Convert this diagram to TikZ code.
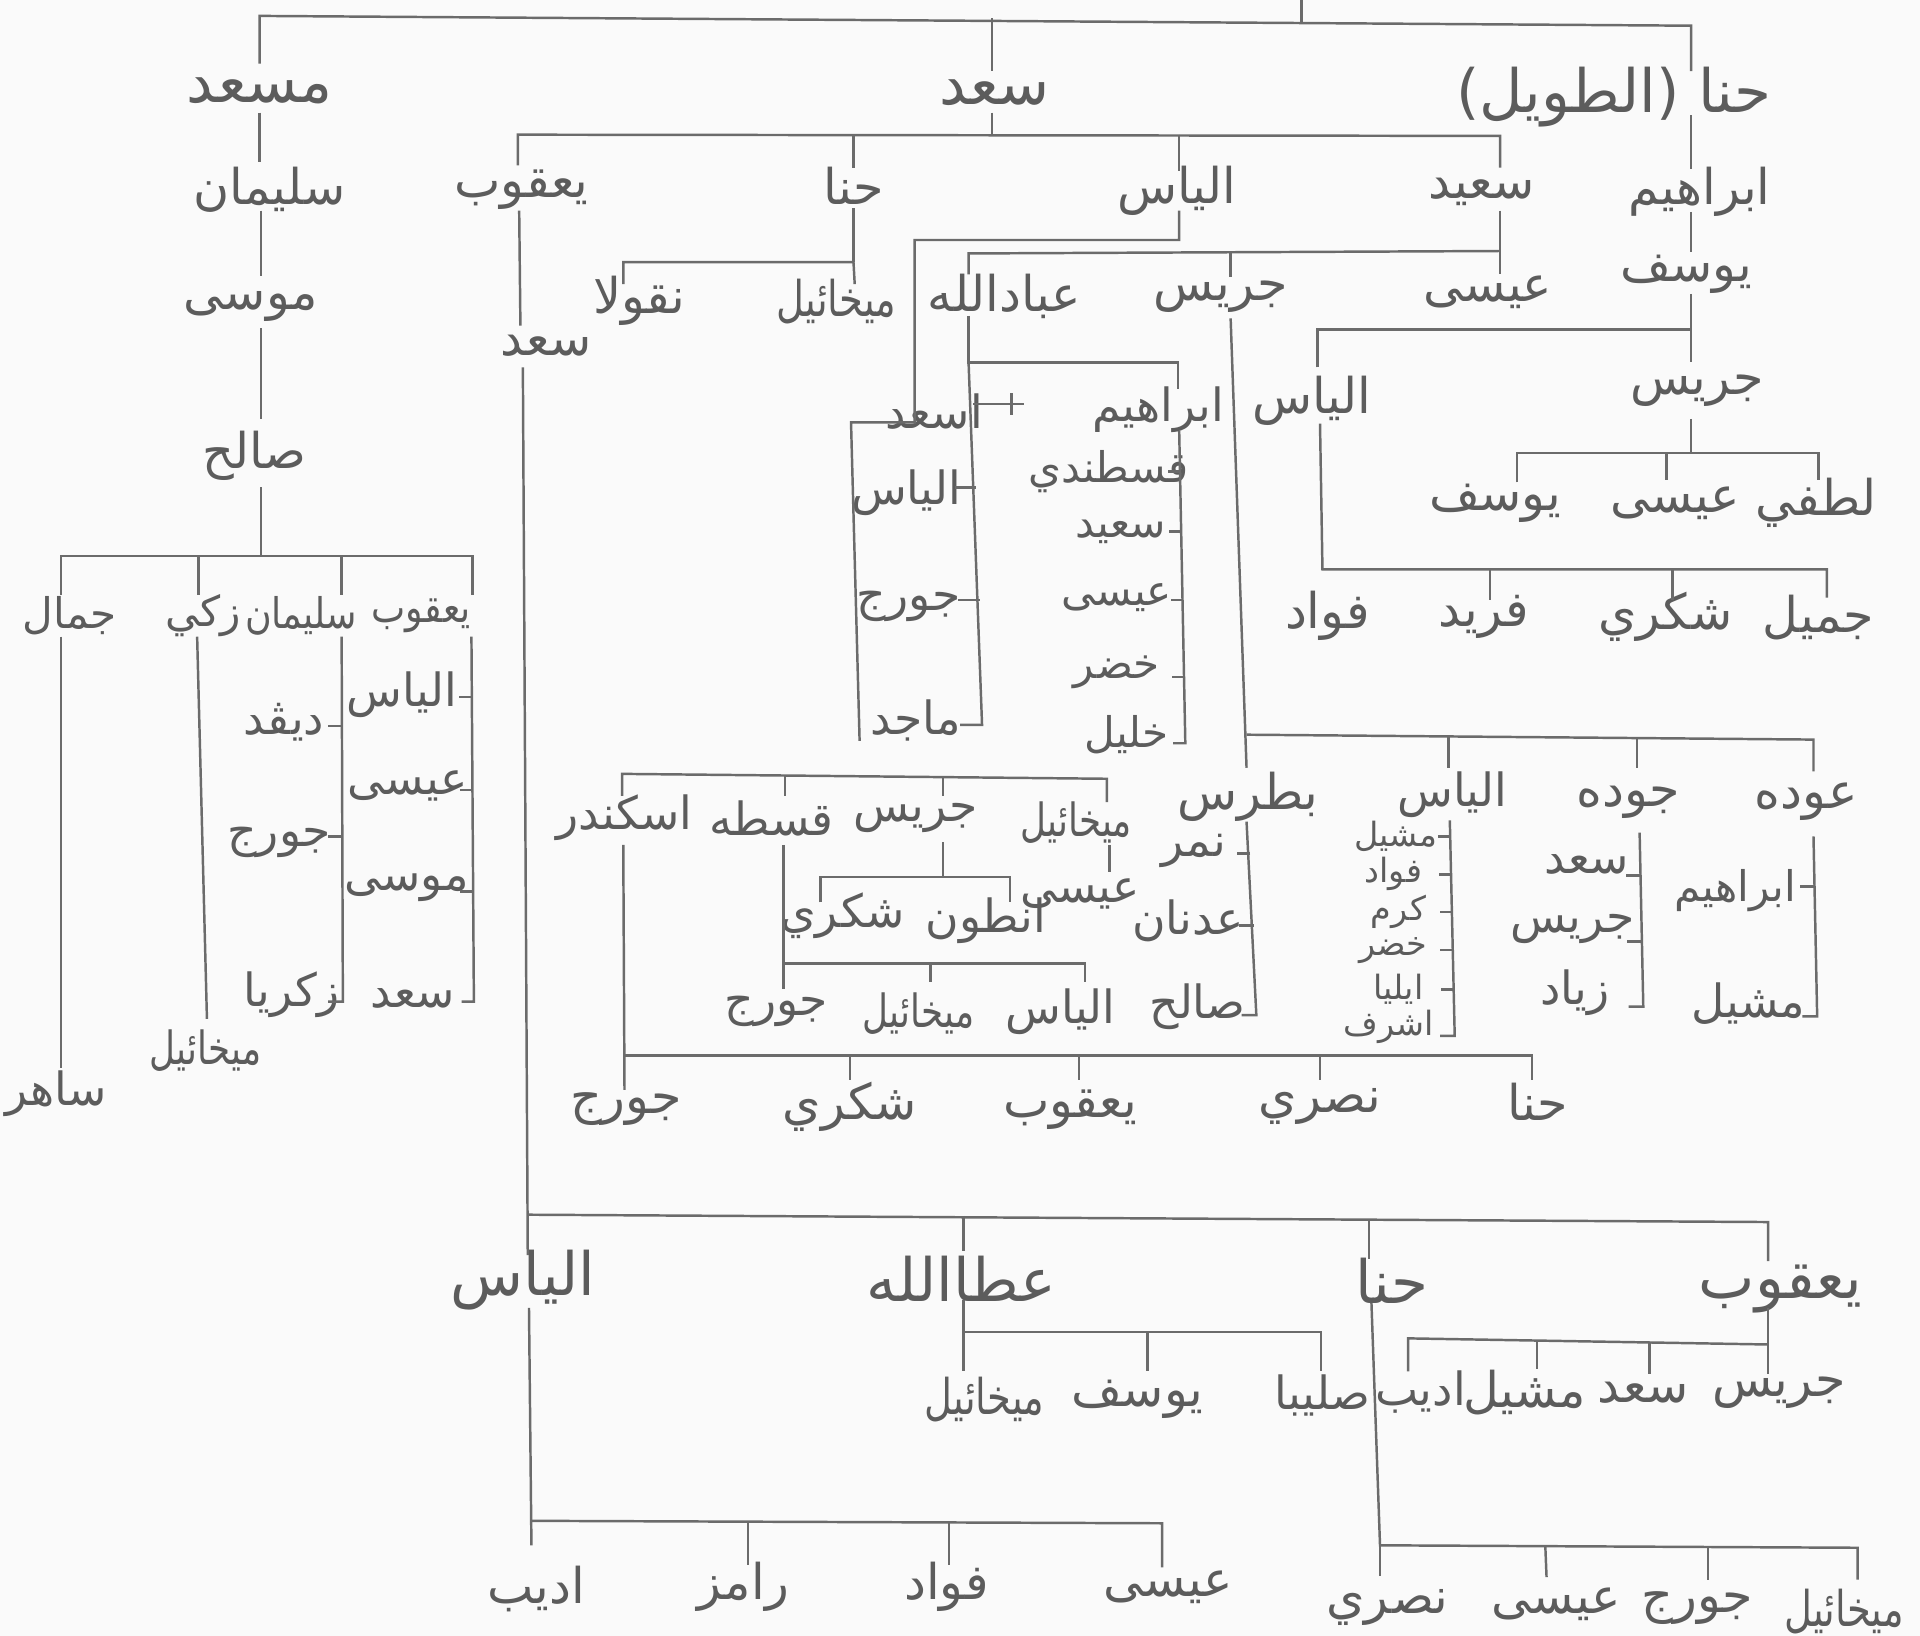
\documentclass[tikz,border=0pt]{standalone}
\usepackage{fontspec}
\newfontfamily\arabicfont[Script=Arabic]{DejaVu Sans}
\TeXXeTstate=1
\newcommand\arT[1]{\beginR #1\endR}
\tikzset{
  ln/.style={draw=black!58, line width=0.7pt},
  base/.style={text=black!64, inner sep=1pt},
  big/.style={base, font=\arabicfont\fontsize{17}{19}\selectfont},
  nm/.style={base, font=\arabicfont\fontsize{14}{16}\selectfont},
  md/.style={base, font=\arabicfont\fontsize{13}{15}\selectfont},
  sm/.style={base, font=\arabicfont\fontsize{12}{14}\selectfont},
  xs/.style={base, font=\arabicfont\fontsize{9.5}{11}\selectfont, inner sep=0.5pt},
  nar/.style={xscale=0.78},
  snar/.style={xscale=0.86},
}
\begin{document}
\begin{tikzpicture}[x=0.012245cm, y=-0.012245cm]
\fill[gray!4] (0,0) rectangle (1568,1336);
\useasboundingbox (0,0) rectangle (1568,1336);

% ---------- text nodes ----------
\node[big] (masad) at (212,74) {\arT{مسعد}};
\node[big] (saad) at (812,76) {\arT{سعد}};
\node[big] (hannaT) at (1318,79) {\arT{حنا (الطويل)}};

\node[nm] (sulaiman1) at (220,155) {\arT{سليمان}};
\node[nm] (musa1) at (205,250) {\arT{موسى}};
\node[nm] (salih1) at (208,372) {\arT{صالح}};
\node[sm] (jamal) at (57,503) {\arT{جمال}};
\node[sm] (zaki) at (166,503) {\arT{زكي}};
\node[sm,snar] (sulaiman2) at (246,503) {\arT{سليمان}};
\node[sm,snar] (yaqub1) at (344,503) {\arT{يعقوب}};
\node[md] (sahir) at (46,893) {\arT{ساهر}};
\node[md,nar] (mikhail1) at (168,858) {\arT{ميخائيل}};
\node[md] (david) at (232,590) {\arT{ديڤد}};
\node[md] (george1) at (228,688) {\arT{جورج}};
\node[md] (zakariya) at (238,812) {\arT{زكريا}};
\node[md] (elias1) at (328,567) {\arT{الياس}};
\node[md] (isa1) at (333,642) {\arT{عيسى}};
\node[md] (musa2) at (332,725) {\arT{موسى}};
\node[md] (saad2) at (337,815) {\arT{سعد}};

\node[nm] (yaqub2) at (426,155) {\arT{يعقوب}};
\node[nm] (hanna2) at (697,152) {\arT{حنا}};
\node[nm] (elias2) at (961,156) {\arT{الياس}};
\node[nm] (said1) at (1210,157) {\arT{سعيد}};

\node[nm] (ibrahim1) at (1388,157) {\arT{ابراهيم}};
\node[nm] (yusuf1) at (1377,224) {\arT{يوسف}};
\node[nm] (jiryis1) at (1386,319) {\arT{جريس}};
\node[nm] (elias3) at (1071,327) {\arT{الياس}};
\node[nm] (fuad1) at (1084,503) {\arT{فواد}};
\node[nm] (farid) at (1212,504) {\arT{فريد}};
\node[nm] (shukri1) at (1360,504) {\arT{شكري}};
\node[nm] (jamil) at (1485,504) {\arT{جميل}};
\node[nm] (yusuf2) at (1221,411) {\arT{يوسف}};
\node[nm] (isa2) at (1368,411) {\arT{عيسى}};
\node[nm] (lutfi) at (1483,411) {\arT{لطفي}};

\node[nm] (niqula) at (522,246) {\arT{نقولا}};
\node[nm,nar] (mikhail2) at (683,246) {\arT{ميخائيل}};
\node[nm] (saad3) at (446,282) {\arT{سعد}};

\node[nm] (abdallah) at (820,242) {\arT{عبادالله}};
\node[nm] (jiryis2) at (997,242) {\arT{جريس}};
\node[nm] (isa3) at (1215,239) {\arT{عيسى}};

\node[md] (asad) at (763,336) {\arT{اسعد}};
\node[md] (ibrahim2) at (946,335) {\arT{ابراهيم}};
\node[sm] (qustandi) at (905,385) {\arT{قسطندي}};
\node[sm] (said2) at (915,434) {\arT{سعيد}};
\node[sm] (isa4) at (912,488) {\arT{عيسى}};
\node[sm] (khidr1) at (912,549) {\arT{خضر}};
\node[sm] (khalil) at (920,600) {\arT{خليل}};
\node[md] (elias4) at (740,402) {\arT{الياس}};
\node[md] (george2) at (742,495) {\arT{جورج}};
\node[md] (majid) at (748,588) {\arT{ماجد}};

\node[nm] (butrus) at (1019,651) {\arT{بطرس}};
\node[md] (elias5) at (1186,649) {\arT{الياس}};
\node[nm] (jawdeh) at (1330,655) {\arT{جوده}};
\node[nm] (awdeh) at (1475,655) {\arT{عوده}};
\node[md] (nimr) at (975,695) {\arT{نمر}};
\node[md] (adnan) at (970,752) {\arT{عدنان}};
\node[md] (salih2) at (978,822) {\arT{صالح}};
\node[xs] (mishil1) at (1140,683) {\arT{مشيل}};
\node[xs] (fuad2) at (1138,714) {\arT{فواد}};
\node[xs] (karam) at (1142,745) {\arT{كرم}};
\node[xs] (khidr2) at (1138,776) {\arT{خضر}};
\node[xs] (iliya) at (1142,808) {\arT{ايليا}};
\node[xs] (ashraf) at (1134,839) {\arT{اشرف}};
\node[md] (saad4) at (1296,706) {\arT{سعد}};
\node[md] (jiryis3) at (1284,759) {\arT{جريس}};
\node[md] (ziyad) at (1286,811) {\arT{زياد}};
\node[sm] (ibrahim3) at (1417,727) {\arT{ابراهيم}};
\node[md] (mishil2) at (1428,820) {\arT{مشيل}};

\node[md] (iskandar) at (510,668) {\arT{اسكندر}};
\node[md] (qustah) at (630,668) {\arT{قسطه}};
\node[md] (jiryis4) at (748,668) {\arT{جريس}};
\node[md,nar] (mikhail3) at (879,672) {\arT{ميخائيل}};
\node[md] (shukri2) at (688,748) {\arT{شكري}};
\node[md] (antun) at (805,752) {\arT{انطون}};
\node[md] (isa5) at (882,730) {\arT{عيسى}};
\node[md] (george3) at (634,826) {\arT{جورج}};
\node[md,nar] (mikhail4) at (750,828) {\arT{ميخائيل}};
\node[md] (elias6) at (866,826) {\arT{الياس}};
\node[nm] (george4) at (511,906) {\arT{جورج}};
\node[nm] (shukri3) at (694,904) {\arT{شكري}};
\node[nm] (yaqub3) at (874,906) {\arT{يعقوب}};
\node[nm] (nasri1) at (1078,904) {\arT{نصري}};
\node[nm] (hanna3) at (1256,900) {\arT{حنا}};

\node[big] (elias7) at (427,1045) {\arT{الياس}};
\node[big] (ataallah) at (785,1044) {\arT{عطاالله}};
\node[big] (hanna4) at (1137,1046) {\arT{حنا}};
\node[big] (yaqub4) at (1454,1053) {\arT{يعقوب}};
\node[nm,nar] (mikhail5) at (804,1143) {\arT{ميخائيل}};
\node[nm] (yusuf3) at (929,1143) {\arT{يوسف}};
\node[md] (saliba) at (1080,1140) {\arT{صليبا}};
\node[md] (adib1) at (1160,1137) {\arT{اديب}};
\node[nm] (mishil3) at (1245,1137) {\arT{مشيل}};
\node[nm] (saad5) at (1342,1137) {\arT{سعد}};
\node[nm] (jiryis5) at (1453,1137) {\arT{جريس}};
\node[nm] (adib2) at (438,1298) {\arT{اديب}};
\node[nm] (ramiz) at (607,1296) {\arT{رامز}};
\node[nm] (fuad3) at (773,1296) {\arT{فواد}};
\node[nm] (isa6) at (954,1296) {\arT{عيسى}};
\node[nm] (nasri2) at (1133,1313) {\arT{نصري}};
\node[nm] (isa7) at (1271,1310) {\arT{عيسى}};
\node[nm] (george5) at (1386,1313) {\arT{جورج}};
\node[nm,nar] (mikhail6) at (1506,1316) {\arT{ميخائيل}};

% ---------- connectors ----------
% top
\draw[ln] (1063,0) -- (1063,20);
\draw[ln] (212,52) -- (212,13) -- (1381,21) -- (1381,58);
\draw[ln] (810,15) -- (810,58);
% masad chain
\draw[ln] (212,92) -- (212,132);
\draw[ln] (213,172) -- (213,225);
\draw[ln] (213,268) -- (213,342);
\draw[ln] (213,398) -- (213,454);
\draw[ln] (50,486) -- (50,454) -- (386,454) -- (386,486);
\draw[ln] (162,454) -- (162,486);
\draw[ln] (279,454) -- (279,486);
\draw[ln] (50,520) -- (50,872);
\draw[ln] (161,520) -- (169,832);
\draw[ln] (279,520) -- (280,818) -- (268,818);
\draw[ln] (279,593) -- (268,593);
\draw[ln] (279,683) -- (268,683);
\draw[ln] (385,520) -- (387,818) -- (377,818);
\draw[ln] (385,569) -- (375,569);
\draw[ln] (386,645) -- (376,645);
\draw[ln] (386,728) -- (376,728);
% saad's children
\draw[ln] (810,92) -- (810,110);
\draw[ln] (423,135) -- (423,110) -- (1225,111) -- (1225,137);
\draw[ln] (697,110) -- (697,137);
\draw[ln] (963,110) -- (963,140);
\draw[ln] (963,172) -- (963,196) -- (747,196) -- (747,345) -- (695,345) -- (702,605);
% hanna (al-tawil) chain
\draw[ln] (1381,94) -- (1381,138);
\draw[ln] (1381,173) -- (1381,206);
\draw[ln] (1381,240) -- (1381,296);
\draw[ln] (1381,342) -- (1381,370);
\draw[ln] (1076,300) -- (1076,269) -- (1381,269);
\draw[ln] (1078,346) -- (1080,465) -- (1492,465) -- (1492,488);
\draw[ln] (1217,465) -- (1217,490);
\draw[ln] (1366,465) -- (1366,490);
\draw[ln] (1239,394) -- (1239,370) -- (1485,370) -- (1485,392);
\draw[ln] (1361,370) -- (1361,392);
% hanna (son of saad)
\draw[ln] (697,170) -- (697,214);
\draw[ln] (509,232) -- (509,214) -- (697,214) -- (698,232);
% yaqub -> saad -> long line
\draw[ln] (424,172) -- (425,266);
\draw[ln] (427,300) -- (431,1025);
\draw[ln] (432,1068) -- (434,1262);
% said
\draw[ln] (1225,172) -- (1225,224);
\draw[ln] (791,224) -- (791,207) -- (1225,205);
\draw[ln] (1005,207) -- (1005,226);
\draw[ln] (1005,260) -- (1018,627);
% abdallah
\draw[ln] (791,258) -- (791,296) -- (962,296) -- (962,318);
\draw[ln] (791,296) -- (802,592) -- (784,592);
\draw[ln] (795,330) -- (836,330);
\draw[ln] (826,321) -- (826,339);
\draw[ln] (797,398) -- (780,398);
\draw[ln] (800,490) -- (782,490);
% ibrahim bracket
\draw[ln] (963,352) -- (968,607) -- (958,607);
\draw[ln] (964,385) -- (954,385);
\draw[ln] (965,434) -- (955,434);
\draw[ln] (966,490) -- (956,490);
\draw[ln] (967,553) -- (957,553);
% jiryis (son of said)
\draw[ln] (1018,600) -- (1481,604) -- (1481,630);
\draw[ln] (1183,601) -- (1183,627);
\draw[ln] (1337,602) -- (1337,627);
\draw[ln] (1018,671) -- (1026,829) -- (1014,829);
\draw[ln] (1021,697) -- (1010,697);
\draw[ln] (1024,756) -- (1012,756);
\draw[ln] (1184,670) -- (1188,846) -- (1176,846);
\draw[ln] (1184,683) -- (1174,683);
\draw[ln] (1185,714) -- (1175,714);
\draw[ln] (1186,745) -- (1176,745);
\draw[ln] (1186,776) -- (1176,776);
\draw[ln] (1187,808) -- (1177,808);
\draw[ln] (1339,680) -- (1342,822) -- (1330,822);
\draw[ln] (1340,715) -- (1328,715);
\draw[ln] (1341,769) -- (1329,769);
\draw[ln] (1481,683) -- (1484,830) -- (1472,830);
\draw[ln] (1482,724) -- (1470,724);
% middle lower
\draw[ln] (508,650) -- (508,632) -- (904,636) -- (904,655);
\draw[ln] (641,633) -- (641,650);
\draw[ln] (770,634) -- (770,650);
\draw[ln] (509,690) -- (510,890);
\draw[ln] (510,862) -- (1251,862) -- (1251,882);
\draw[ln] (694,862) -- (694,882);
\draw[ln] (881,862) -- (881,882);
\draw[ln] (1078,862) -- (1078,882);
\draw[ln] (640,690) -- (640,808);
\draw[ln] (640,787) -- (886,787) -- (886,802);
\draw[ln] (760,787) -- (760,802);
\draw[ln] (770,688) -- (770,716);
\draw[ln] (670,737) -- (670,716) -- (825,716) -- (825,737);
\draw[ln] (906,690) -- (906,712);
% bottom
\draw[ln] (431,992) -- (1444,998) -- (1444,1030);
\draw[ln] (787,993) -- (787,1022);
\draw[ln] (1118,996) -- (1118,1028);
\draw[ln] (787,1062) -- (787,1120);
\draw[ln] (787,1088) -- (1079,1088) -- (1079,1120);
\draw[ln] (937,1088) -- (937,1120);
\draw[ln] (1120,1064) -- (1127,1262) -- (1517,1264) -- (1517,1290);
\draw[ln] (1127,1262) -- (1127,1287);
\draw[ln] (1262,1263) -- (1263,1288);
\draw[ln] (1395,1263) -- (1395,1290);
\draw[ln] (1444,1068) -- (1444,1122);
\draw[ln] (1150,1120) -- (1150,1093) -- (1444,1098);
\draw[ln] (1255,1095) -- (1255,1118);
\draw[ln] (1347,1096) -- (1347,1122);
\draw[ln] (433,1242) -- (949,1244) -- (949,1280);
\draw[ln] (611,1243) -- (611,1278);
\draw[ln] (775,1243) -- (775,1278);
\end{tikzpicture}
\end{document}
